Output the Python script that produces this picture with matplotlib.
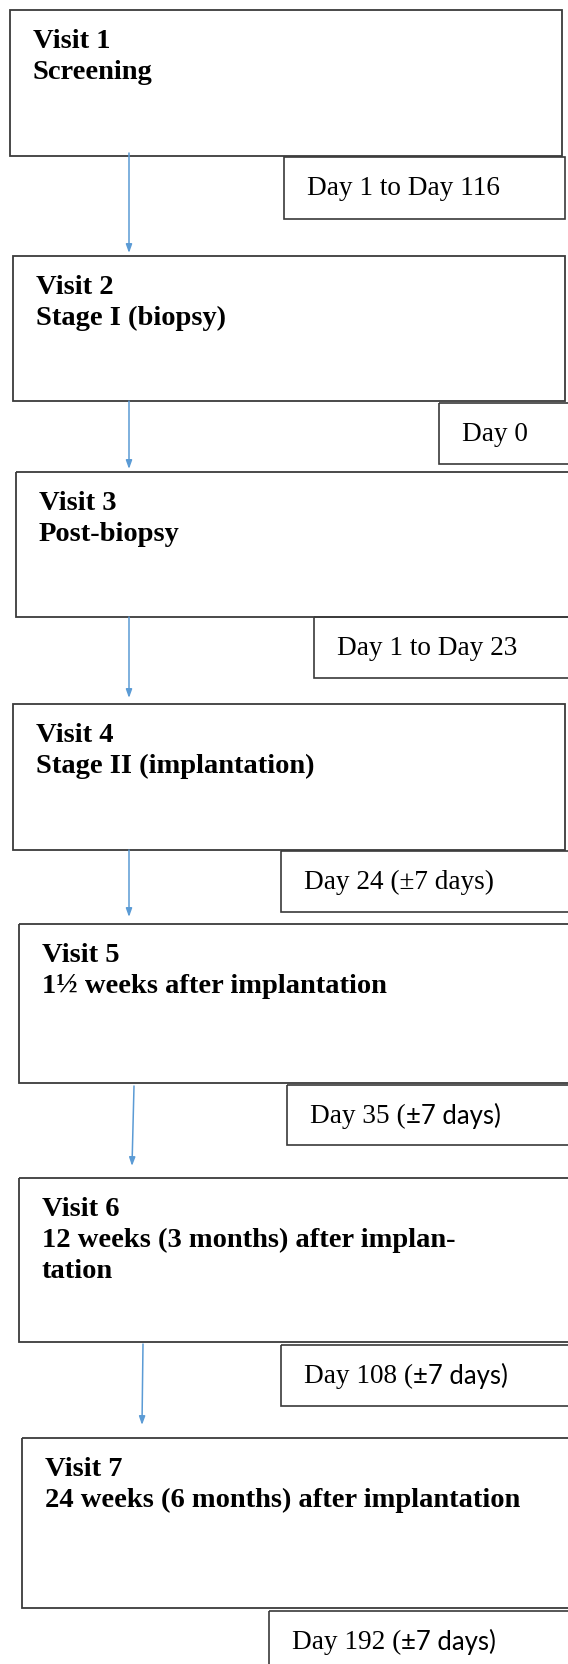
import matplotlib.pyplot as plt
from matplotlib.patches import Rectangle

# text content of the flow chart
visit_titles = ["Visit 1", "Visit 2", "Visit 3", "Visit 4", "Visit 5", "Visit 6", "Visit 7"]
visit_desc = [
    ["Screening"],
    ["Stage I (biopsy)"],
    ["Post-biopsy"],
    ["Stage II (implantation)"],
    ["1½ weeks after implantation"],
    ["12 weeks (3 months) after implan-", "tation"],
    ["24 weeks (6 months) after implantation"],
]
day_head = ["Day 1 to Day 116", "Day 0", "Day 1 to Day 23", "Day 24 (±7 days)",
            "Day 35 (", "Day 108 (", "Day 192 ("]
day_tail = ["", "", "", "", "±7 days)", "±7 days)", "±7 days)"]

# layout in pixels (x0, y0, x1, y1), y grows downwards
visit_boxes = [(10, 11, 562, 157), (13, 257, 565, 402), (16, 473, 570, 618),
               (13, 705, 565, 851), (19, 925, 570, 1084), (19, 1179, 570, 1343),
               (22, 1439, 570, 1609)]
day_boxes = [(284, 158, 565, 220), (439, 404, 570, 465), (314, 618, 570, 679),
             (281, 852, 570, 913), (287, 1086, 570, 1146), (281, 1346, 570, 1407),
             (269, 1612, 570, 1670)]
arrows = [((129, 154), (129, 254)), ((129, 402), (129, 470)), ((129, 618), (129, 699)),
          ((129, 851), (129, 918)), ((134, 1087), (132, 1167)), ((143, 1345), (142, 1426))]

W, H = 568, 1665
fig = plt.figure(figsize=(W / 100, H / 100), dpi=100)
ax = fig.add_axes([0, 0, 1, 1])
ax.set_xlim(0, W)
ax.set_ylim(H, 0)
ax.axis("off")

serif = "Liberation Serif"
edge = "#3a3a3a"

for (x0, y0, x1, y1), title, desc in zip(visit_boxes, visit_titles, visit_desc):
    ax.add_patch(Rectangle((x0, y0), x1 - x0, y1 - y0, fill=False, ec=edge, lw=1.3))
    ax.text(x0 + 23, y0 + 37, title, fontfamily=serif, fontweight="bold",
            fontsize=20.5, va="baseline", ha="left")
    for i, line in enumerate(desc):
        ax.text(x0 + 23, y0 + 68 + 31 * i, line, fontfamily=serif, fontweight="bold",
                fontsize=20.5, va="baseline", ha="left")

for (x0, y0, x1, y1), head, tail in zip(day_boxes, day_head, day_tail):
    ax.add_patch(Rectangle((x0, y0), x1 - x0, y1 - y0, fill=False, ec=edge, lw=1.2))
    t = ax.text(x0 + 23, y0 + 37, head, fontfamily=serif, fontsize=19.6,
                va="baseline", ha="left")
    if tail:
        ax.annotate(tail, xy=(1, 0), xycoords=t, fontfamily="Lato", fontsize=18.5,
                    va="bottom", ha="left")

for start, end in arrows:
    ax.annotate("", xy=end, xytext=start,
                arrowprops=dict(arrowstyle="-|>,head_length=0.5,head_width=0.18",
                                color="#5b9bd5", lw=1.1, shrinkA=0, shrinkB=0))

fig.savefig("out.png", dpi=100)
